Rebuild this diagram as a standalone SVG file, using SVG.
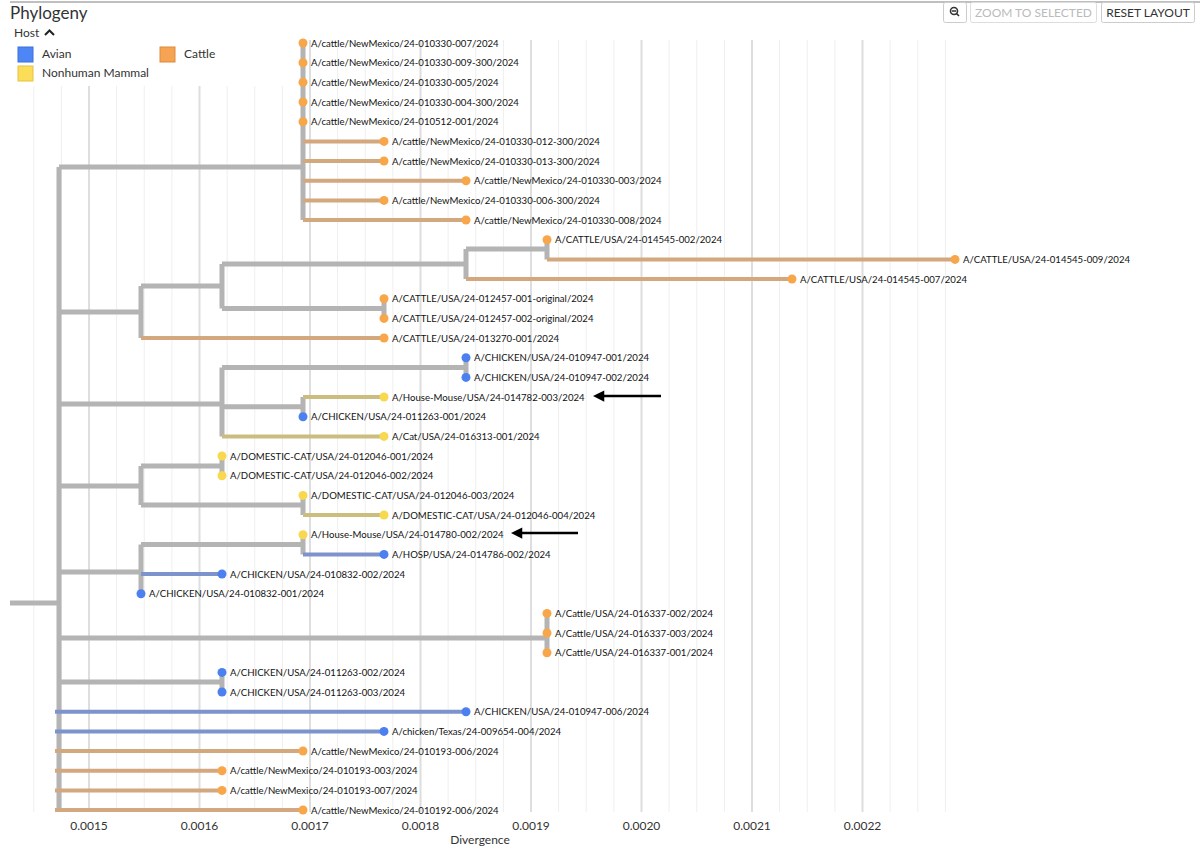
<svg xmlns="http://www.w3.org/2000/svg" width="1200" height="858" viewBox="0 0 1200 858">
<defs>
<style>
.t{font-family:Lato,"Liberation Sans",sans-serif;font-size:9.6px;fill:#111}
.ui{font-family:Lato,"Liberation Sans",sans-serif;fill:#333}
.g{stroke:#b4b4b4;fill:none;stroke-width:5}
.c{stroke:#d4a87e;fill:none;stroke-width:4}
.b{stroke:#7d93cb;fill:none;stroke-width:4}
.k{stroke:#cbbd80;fill:none;stroke-width:4}
.ca{fill:#f7a64a}
.av{fill:#4d80ef}
.mm{fill:#f8d84e}
.ax{font-family:Lato,"Liberation Sans",sans-serif;font-size:12px;fill:#333;text-anchor:middle}
</style>
<marker id="ah" viewBox="0 0 10 10" refX="2" refY="5" markerWidth="5" markerHeight="4.5" orient="auto"><path d="M0,0L10,5L0,10z" fill="#000"/></marker>
</defs>
<rect width="1200" height="858" fill="#fff"/>
<g id="grid">
<path stroke="#efefef" stroke-width="1" d="M33.75,40V812M61.4,40V812M116.6,40V812M144.25,40V812M171.9,40V812M227.1,40V812M254.75,40V812M282.4,40V812M337.6,40V812M365.25,40V812M392.9,40V812M448.1,40V812M475.75,40V812M503.4,40V812M558.6,40V812M586.25,40V812M613.9,40V812M669.1,40V812M696.75,40V812M724.4,40V812M779.6,40V812M807.25,40V812M834.9,40V812M890.1,40V812M917.75,40V812M945.4,40V812"/>
<path stroke="#dedede" stroke-width="2" d="M89,40V812M199.5,40V812M310,40V812M420.5,40V812M531,40V812M641.5,40V812M752,40V812M862.5,40V812"/>
<text class="ax" x="89" y="830">0.0015</text>
<text class="ax" x="199.5" y="830">0.0016</text>
<text class="ax" x="310" y="830">0.0017</text>
<text class="ax" x="420.5" y="830">0.0018</text>
<text class="ax" x="531" y="830">0.0019</text>
<text class="ax" x="641.5" y="830">0.0020</text>
<text class="ax" x="752" y="830">0.0021</text>
<text class="ax" x="862.5" y="830">0.0022</text>
<text class="ax" x="480" y="844">Divergence</text>
</g>
<line x1="10" y1="2" x2="1200" y2="2" stroke="#aaa" stroke-width="1.5"/>
<text class="ui" x="10" y="19" font-size="17">Phylogeny</text>
<g id="legend">
<rect x="10" y="24" width="285" height="62" fill="#fff"/>
<text class="ui" x="14" y="37" font-size="12">Host</text>
<path d="M45,35L49.5,30.5L54,35" stroke="#222" stroke-width="2" fill="none"/>
<rect x="18" y="47" width="15" height="15" fill="#4f86f6" stroke="#3d6fd8"/>
<text class="ui" x="42" y="58" font-size="12">Avian</text>
<rect x="160" y="47" width="15" height="15" fill="#f6a454" stroke="#dd8b3a"/>
<text class="ui" x="184" y="58" font-size="12">Cattle</text>
<rect x="18" y="66" width="15" height="15" fill="#fcdd5a" stroke="#e3c23f"/>
<text class="ui" x="42" y="77" font-size="12">Nonhuman Mammal</text>
</g>
<g id="buttons">
<rect x="943.5" y="2.5" width="23" height="20" rx="2" fill="#fff" stroke="#ccc"/>
<circle cx="954" cy="11" r="3.5" fill="none" stroke="#333" stroke-width="1.6"/>
<path d="M952,11H956M956.5,13.5L959,16" stroke="#333" stroke-width="1.6"/>
<rect x="970.5" y="2.5" width="126" height="20" rx="2" fill="#fff" stroke="#ddd"/>
<text class="ui" x="1033.5" y="17" font-size="12" text-anchor="middle" style="fill:#bbb">ZOOM TO SELECTED</text>
<rect x="1101.5" y="2.5" width="93" height="20" rx="2" fill="#fff" stroke="#ccc"/>
<text class="ui" x="1148" y="17" font-size="12" text-anchor="middle">RESET LAYOUT</text>
</g>
<g id="connectors">
<path class="g" stroke-width="9" d="M10,603H59M59,167V812"/>
<path class="g" d="M59,167H303M303,43V220"/>
<path class="c" d="M303,141.4H384M303,161H384M303,180.7H466M303,200.4H384M303,220H466"/>
<path class="g" d="M59,312H141M141,286V338M141,286H222M222,264V308.5M222,264H466M466,249V279M466,249H547M547,239.7V259.4M222,308.5H384M384,298.7V318.4"/>
<path class="c" d="M547,259.4H955M466,279H792M141,338H384"/>
<path class="g" d="M59,404H222M222,367.5V436.4M222,367.5H466M466,357.7V377.4M222,406.8H303M303,397V416.7"/>
<path class="k" d="M303,397H384M222,436.4H384"/>
<path class="g" d="M59,486H141M141,466V505M141,466H222M222,456V475.7M141,505H303M303,495.4V515"/>
<path class="k" d="M303,515H384"/>
<path class="g" d="M59,572H141M141,544.5V593.7M141,544.5H303M303,534.7V554.4"/>
<path class="b" d="M303,554.4H384M141,574H222"/>
<path class="g" d="M59,638H547M547,613.4V652.7"/>
<path class="g" d="M59,682H222M222,672.4V692"/>
<path class="b" d="M55,711.7H466M55,731.4H384"/>
<path class="c" d="M55,751H303M55,770.7H222M55,790.4H222M55,810H303"/>
</g>
<g id="tip1"><circle class="ca" cx="303" cy="43" r="4.5"/><text class="t" x="311" y="46.5">A/cattle/NewMexico/24-010330-007/2024</text></g>
<g id="tip2"><circle class="ca" cx="303" cy="62.7" r="4.5"/><text class="t" x="311" y="66.2">A/cattle/NewMexico/24-010330-009-300/2024</text></g>
<g id="tip3"><circle class="ca" cx="303" cy="82.3" r="4.5"/><text class="t" x="311" y="85.8">A/cattle/NewMexico/24-010330-005/2024</text></g>
<g id="tip4"><circle class="ca" cx="303" cy="102" r="4.5"/><text class="t" x="311" y="105.5">A/cattle/NewMexico/24-010330-004-300/2024</text></g>
<g id="tip5"><circle class="ca" cx="303" cy="121.7" r="4.5"/><text class="t" x="311" y="125.2">A/cattle/NewMexico/24-010512-001/2024</text></g>
<g id="tip6"><circle class="ca" cx="384" cy="141.4" r="4.5"/><text class="t" x="392" y="144.9">A/cattle/NewMexico/24-010330-012-300/2024</text></g>
<g id="tip7"><circle class="ca" cx="384" cy="161" r="4.5"/><text class="t" x="392" y="164.5">A/cattle/NewMexico/24-010330-013-300/2024</text></g>
<g id="tip8"><circle class="ca" cx="466" cy="180.7" r="4.5"/><text class="t" x="474" y="184.2">A/cattle/NewMexico/24-010330-003/2024</text></g>
<g id="tip9"><circle class="ca" cx="384" cy="200.4" r="4.5"/><text class="t" x="392" y="203.9">A/cattle/NewMexico/24-010330-006-300/2024</text></g>
<g id="tip10"><circle class="ca" cx="466" cy="220" r="4.5"/><text class="t" x="474" y="223.5">A/cattle/NewMexico/24-010330-008/2024</text></g>
<g id="tip11"><circle class="ca" cx="547" cy="239.7" r="4.5"/><text class="t" x="555" y="243.2">A/CATTLE/USA/24-014545-002/2024</text></g>
<g id="tip12"><circle class="ca" cx="955" cy="259.4" r="4.5"/><text class="t" x="963" y="262.9">A/CATTLE/USA/24-014545-009/2024</text></g>
<g id="tip13"><circle class="ca" cx="792" cy="279" r="4.5"/><text class="t" x="800" y="282.5">A/CATTLE/USA/24-014545-007/2024</text></g>
<g id="tip14"><circle class="ca" cx="384" cy="298.7" r="4.5"/><text class="t" x="392" y="302.2">A/CATTLE/USA/24-012457-001-original/2024</text></g>
<g id="tip15"><circle class="ca" cx="384" cy="318.4" r="4.5"/><text class="t" x="392" y="321.9">A/CATTLE/USA/24-012457-002-original/2024</text></g>
<g id="tip16"><circle class="ca" cx="384" cy="338" r="4.5"/><text class="t" x="392" y="341.5">A/CATTLE/USA/24-013270-001/2024</text></g>
<g id="tip17"><circle class="av" cx="466" cy="357.7" r="4.5"/><text class="t" x="474" y="361.2">A/CHICKEN/USA/24-010947-001/2024</text></g>
<g id="tip18"><circle class="av" cx="466" cy="377.4" r="4.5"/><text class="t" x="474" y="380.9">A/CHICKEN/USA/24-010947-002/2024</text></g>
<g id="tip19"><circle class="mm" cx="384" cy="397" r="4.5"/><text class="t" x="392" y="400.5">A/House-Mouse/USA/24-014782-003/2024</text></g>
<g id="tip20"><circle class="av" cx="303" cy="416.7" r="4.5"/><text class="t" x="311" y="420.2">A/CHICKEN/USA/24-011263-001/2024</text></g>
<g id="tip21"><circle class="mm" cx="384" cy="436.4" r="4.5"/><text class="t" x="392" y="439.9">A/Cat/USA/24-016313-001/2024</text></g>
<g id="tip22"><circle class="mm" cx="222" cy="456" r="4.5"/><text class="t" x="230" y="459.5">A/DOMESTIC-CAT/USA/24-012046-001/2024</text></g>
<g id="tip23"><circle class="mm" cx="222" cy="475.7" r="4.5"/><text class="t" x="230" y="479.2">A/DOMESTIC-CAT/USA/24-012046-002/2024</text></g>
<g id="tip24"><circle class="mm" cx="303" cy="495.4" r="4.5"/><text class="t" x="311" y="498.9">A/DOMESTIC-CAT/USA/24-012046-003/2024</text></g>
<g id="tip25"><circle class="mm" cx="384" cy="515" r="4.5"/><text class="t" x="392" y="518.5">A/DOMESTIC-CAT/USA/24-012046-004/2024</text></g>
<g id="tip26"><circle class="mm" cx="303" cy="534.7" r="4.5"/><text class="t" x="311" y="538.2">A/House-Mouse/USA/24-014780-002/2024</text></g>
<g id="tip27"><circle class="av" cx="384" cy="554.4" r="4.5"/><text class="t" x="392" y="557.9">A/HOSP/USA/24-014786-002/2024</text></g>
<g id="tip28"><circle class="av" cx="222" cy="574" r="4.5"/><text class="t" x="230" y="577.5">A/CHICKEN/USA/24-010832-002/2024</text></g>
<g id="tip29"><circle class="av" cx="141" cy="593.7" r="4.5"/><text class="t" x="149" y="597.2">A/CHICKEN/USA/24-010832-001/2024</text></g>
<g id="tip30"><circle class="ca" cx="547" cy="613.4" r="4.5"/><text class="t" x="555" y="616.9">A/Cattle/USA/24-016337-002/2024</text></g>
<g id="tip31"><circle class="ca" cx="547" cy="633" r="4.5"/><text class="t" x="555" y="636.5">A/Cattle/USA/24-016337-003/2024</text></g>
<g id="tip32"><circle class="ca" cx="547" cy="652.7" r="4.5"/><text class="t" x="555" y="656.2">A/Cattle/USA/24-016337-001/2024</text></g>
<g id="tip33"><circle class="av" cx="222" cy="672.4" r="4.5"/><text class="t" x="230" y="675.9">A/CHICKEN/USA/24-011263-002/2024</text></g>
<g id="tip34"><circle class="av" cx="222" cy="692" r="4.5"/><text class="t" x="230" y="695.5">A/CHICKEN/USA/24-011263-003/2024</text></g>
<g id="tip35"><circle class="av" cx="466" cy="711.7" r="4.5"/><text class="t" x="474" y="715.2">A/CHICKEN/USA/24-010947-006/2024</text></g>
<g id="tip36"><circle class="av" cx="384" cy="731.4" r="4.5"/><text class="t" x="392" y="734.9">A/chicken/Texas/24-009654-004/2024</text></g>
<g id="tip37"><circle class="ca" cx="303" cy="751" r="4.5"/><text class="t" x="311" y="754.5">A/cattle/NewMexico/24-010193-006/2024</text></g>
<g id="tip38"><circle class="ca" cx="222" cy="770.7" r="4.5"/><text class="t" x="230" y="774.2">A/cattle/NewMexico/24-010193-003/2024</text></g>
<g id="tip39"><circle class="ca" cx="222" cy="790.4" r="4.5"/><text class="t" x="230" y="793.9">A/cattle/NewMexico/24-010193-007/2024</text></g>
<g id="tip40"><circle class="ca" cx="303" cy="810" r="4.5"/><text class="t" x="311" y="813.5">A/cattle/NewMexico/24-010192-006/2024</text></g>
<g id="arrows">
<line x1="661" y1="396" x2="602" y2="396" stroke="#000" stroke-width="2.5" marker-end="url(#ah)"/>
<line x1="578" y1="533" x2="520" y2="533" stroke="#000" stroke-width="2.5" marker-end="url(#ah)"/>
</g>
</svg>
